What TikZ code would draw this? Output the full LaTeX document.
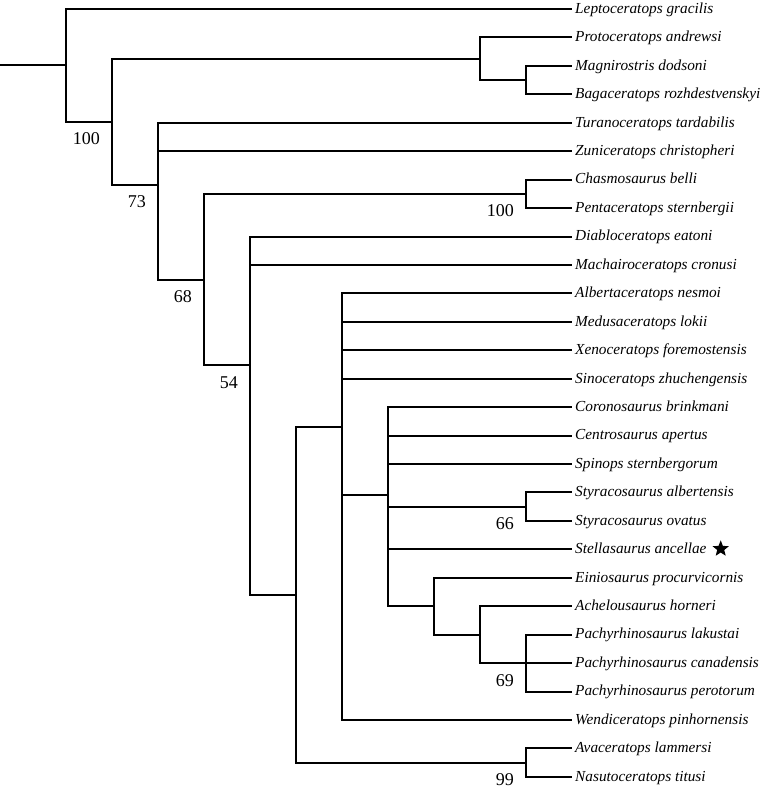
\documentclass[tikz,border=0pt]{standalone}
\usepackage{fontspec}
\setmainfont{Liberation Serif}
\usetikzlibrary{shapes.geometric}

\tikzset{
  branch/.style={line width=2pt},
  taxon/.style={anchor=west,inner xsep=3pt,inner ysep=0pt,text height=10pt,text depth=1.4pt,
    font=\fontsize{15.3}{18}\selectfont\itshape},
  support/.style={anchor=base east,inner sep=0pt,font=\fontsize{18}{20}\selectfont},
  starmark/.style={star,star points=5,star point ratio=2.3,fill=black,inner sep=0pt,minimum size=17pt}
}

\begin{document}
\begin{tikzpicture}[x=46pt,y=-28.44pt]
\useasboundingbox (-1.4348,-0.3165) rectangle (15.1739,27.4613);

% terminal taxa, one per row
\foreach \t/\name [count=\i from 0] in {
  lepto/Leptoceratops gracilis,
  proto/Protoceratops andrewsi,
  magni/Magnirostris dodsoni,
  baga/Bagaceratops rozhdestvenskyi,
  turano/Turanoceratops tardabilis,
  zuni/Zuniceratops christopheri,
  chasmo/Chasmosaurus belli,
  penta/Pentaceratops sternbergii,
  diablo/Diabloceratops eatoni,
  machai/Machairoceratops cronusi,
  alberta/Albertaceratops nesmoi,
  medusa/Medusaceratops lokii,
  xeno/Xenoceratops foremostensis,
  sino/Sinoceratops zhuchengensis,
  corono/Coronosaurus brinkmani,
  centro/Centrosaurus apertus,
  spinops/Spinops sternbergorum,
  styalb/Styracosaurus albertensis,
  styova/Styracosaurus ovatus,
  stella/Stellasaurus ancellae,
  einio/Einiosaurus procurvicornis,
  achelo/Achelousaurus horneri,
  pachlak/Pachyrhinosaurus lakustai,
  pachcan/Pachyrhinosaurus canadensis,
  pachper/Pachyrhinosaurus perotorum,
  wendi/Wendiceratops pinhornensis,
  ava/Avaceratops lammersi,
  nasuto/Nasutoceratops titusi}
  \node[taxon] (\t) at (11,\i) {\name};

\node[starmark] (star) at ([xshift=11pt,yshift=0.5pt]stella.east) {};

% internal nodes: x = depth, y = mean of the children's rows
\coordinate (base) at (-1.4348,1.9804);
\coordinate (n1) at (0,1.9804);
\coordinate (n2) at (1,3.9608);
\coordinate (protoc) at (9,1.75);
\coordinate (bagmag) at (10,2.5);
\coordinate (n3) at (2,6.1717);
\coordinate (n4) at (3,9.5150);
\coordinate (chasmc) at (10,6.5);
\coordinate (n5) at (4,12.5301);
\coordinate (n6) at (5,20.5903);
\coordinate (n7) at (6,14.6806);
\coordinate (n8) at (7,17.0833);
\coordinate (styrc) at (10,17.5);
\coordinate (n9) at (8,21);
\coordinate (n10) at (9,22);
\coordinate (pachc) at (10,23);
\coordinate (avac) at (10,26.5);

\draw[branch] (base) -- (n1);
\foreach \p/\c in {n1/lepto,n1/n2,n2/protoc,n2/n3,protoc/proto,protoc/bagmag,
  bagmag/magni,bagmag/baga,n3/turano,n3/zuni,n3/n4,n4/chasmc,n4/n5,
  chasmc/chasmo,chasmc/penta,n5/diablo,n5/machai,n5/n6,n6/n7,n6/avac,
  n7/alberta,n7/medusa,n7/xeno,n7/sino,n7/n8,n7/wendi,
  n8/corono,n8/centro,n8/spinops,n8/styrc,n8/stella,n8/n9,
  styrc/styalb,styrc/styova,n9/einio,n9/n10,n10/achelo,n10/pachc,
  pachc/pachlak,pachc/pachcan,pachc/pachper,avac/ava,avac/nasuto}
  \draw[branch] (\p) |- (\c);

% support values below the branches
\foreach \c/\v in {n2/100,n3/73,n4/68,n5/54,chasmc/100,styrc/66,pachc/69,avac/99}
  \node[support] (bs-\c) at ([xshift=-12pt,yshift=-23pt]\c) {\v};
\end{tikzpicture}
\end{document}
